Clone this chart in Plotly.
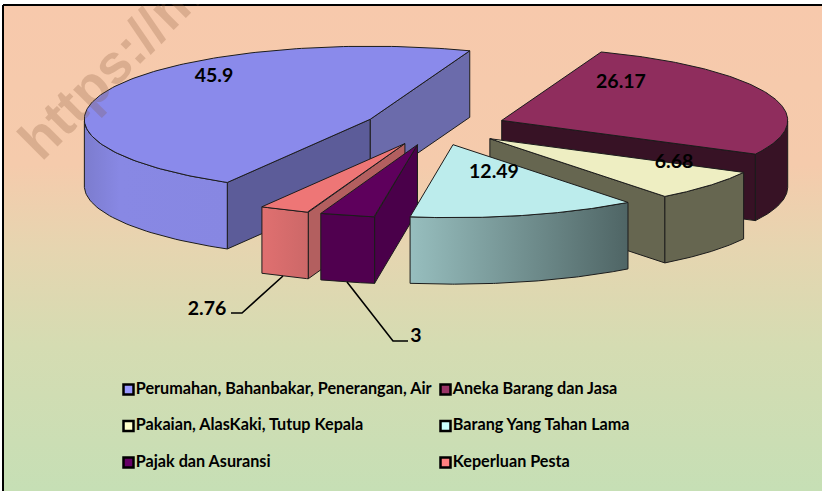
import numpy as np
import plotly.graph_objects as go

categories = ["Perumahan, Bahanbakar, Penerangan, Air", "Aneka Barang dan Jasa",
              "Pakaian, AlasKaki, Tutup Kepala", "Barang Yang Tahan Lama",
              "Pajak dan Asuransi", "Keperluan Pesta"]
values = [45.9, 26.17, 6.68, 12.49, 3, 2.76]
top_colors = ["#8a8aeb", "#8f2d5d", "#eeeec2", "#bcecec", "#5e005c", "#ee7676"]
legend_colors = ["#9999ff", "#993366", "#ffffcc", "#ccffff", "#660066", "#ff8080"]

W, H = 822, 491
LEFT, TOP = 2, 4  # white strip left of and above the chart panel
CX, CY, A, B, DEPTH, EXPLODE = 435, 127, 286, 73, 66.5, 0.25
START = 240.0
FONT = "Lato"

wall_style = {
    0: {"start": "#5c5c99", "end": "#6b6bab", "arc": [[0, "#7c7cce"], [0.25, "#8888e4"], [1, "#8787e2"]]},
    1: {"end": "#371225", "arc": [[0, "#371225"], [1, "#371225"]]},
    2: {"end": "#666650", "arc": [[0, "#666650"], [1, "#666650"]]},
    3: {"arc": [[0, "#97bebe"], [1, "#4f6565"]]},
    4: {"start": "#4a004a", "arc": [[0, "#50004f"], [1, "#50004f"]]},
    5: {"start": "#b35f5f", "arc": [[0, "#e07070"], [1, "#cc6868"]]},
}
draw_order = [0, 1, 2, 5, 4, 3]
value_label_pos = {0: (214, 77), 1: (621, 83), 2: (674, 163), 3: (494, 173), 4: (416, 337), 5: (207, 310)}
leaders = [[(283, 276), (242, 313), (231, 313)], [(347, 282), (393, 341), (408, 341)]]
legend_xs = [128.5, 445.5]
legend_ys = [389.5, 426, 462.5]

fig = go.Figure()
EDGE = "#1c1c1c"


def poly(xs, ys, color, gradient=None):
    t = dict(x=list(xs) + [xs[0]], y=list(ys) + [ys[0]], mode="lines", fill="toself",
             line=dict(color=EDGE, width=1), hoverinfo="skip", showlegend=False)
    if gradient:
        t["fillgradient"] = dict(type="horizontal", colorscale=gradient, start=min(xs), stop=max(xs))
    else:
        t["fillcolor"] = color
    fig.add_trace(go.Scatter(**t))


# background panel (runs past the right and bottom edges, as in the reference)
fig.add_trace(go.Scatter(
    x=[3, 830, 830, 3, 3], y=[5, 5, 500, 500, 5], mode="lines", fill="toself",
    line=dict(color="#000000", width=2), hoverinfo="skip", showlegend=False,
    fillgradient=dict(type="vertical", start=5, stop=491,
                      colorscale=[[0, "#f7c9ac"], [0.33, "#f5cbac"], [0.5, "#e6d5b0"],
                                  [0.7, "#d5dcb2"], [1, "#c6dfb5"]])))

# slices: angles come from the values
total = sum(values)
angles = [START]
for v in values:
    angles.append(angles[-1] - v / total * 360)

for i in draw_order:
    t0, t1 = angles[i], angles[i + 1]
    mid = np.radians((t0 + t1) / 2)
    ax = CX + EXPLODE * A * np.cos(mid)
    ay = CY - EXPLODE * B * np.sin(mid)
    px = lambda d: ax + A * np.cos(np.radians(d))
    py = lambda d: ay - B * np.sin(np.radians(d))
    style = wall_style[i]
    # radial walls
    for key, d in (("start", t0), ("end", t1)):
        if key in style:
            poly([ax, px(d), px(d), ax], [ay, py(d), py(d) + DEPTH, ay + DEPTH], style[key])
    # outer wall: only the part of the rim that faces the viewer
    th = np.linspace(t0, t1, 120)
    th = th[np.sin(np.radians(th)) <= 0.001]
    if len(th) > 1:
        xs = list(px(th)) + list(px(th[::-1]))
        ys = list(py(th)) + list(py(th[::-1]) + DEPTH)
        poly(xs, ys, None, gradient=style["arc"])
    # top face
    th = np.linspace(t0, t1, 160)
    poly([ax] + list(px(th)), [ay] + list(py(th)), top_colors[i])

# leader lines
for pts in leaders:
    fig.add_trace(go.Scatter(x=[p[0] for p in pts], y=[p[1] for p in pts], mode="lines",
                             line=dict(color="#000000", width=1.6), hoverinfo="skip", showlegend=False))

# value labels
fig.add_trace(go.Scatter(
    x=[value_label_pos[i][0] for i in range(6)], y=[value_label_pos[i][1] for i in range(6)],
    mode="text", text=[str(v) for v in values],
    textfont=dict(family=FONT, size=19.5, color="#000000", weight="bold"),
    hoverinfo="skip", showlegend=False))

# legend
lx = [legend_xs[k % 2] for k in range(6)]
ly = [legend_ys[k // 2] for k in range(6)]
fig.add_trace(go.Scatter(
    x=lx, y=ly, mode="markers+text", text=categories, textposition="middle right",
    marker=dict(symbol="square", size=10, color=legend_colors, line=dict(color="#000000", width=2.5)),
    textfont=dict(family=FONT, size=16.2, color="#000000", weight="bold"),
    hoverinfo="skip", showlegend=False))

fig.add_annotation(x=110, y=67, xref="x", yref="y", text="https://m", showarrow=False, textangle=-45,
                   font=dict(family="Liberation Sans", size=55, color="rgba(130,85,50,0.24)", weight="bold"))

fig.update_layout(
    width=W - LEFT, height=H - TOP, margin=dict(l=0, r=0, t=0, b=0), autosize=False,
    paper_bgcolor="#ffffff", plot_bgcolor="rgba(0,0,0,0)",
    xaxis=dict(range=[LEFT, W], visible=False, fixedrange=True),
    yaxis=dict(range=[H, TOP], visible=False, fixedrange=True),
    showlegend=False)
fig.write_html("out.html", config={"displayModeBar": False},
               post_script=f"document.body.style.margin='{TOP}px 0 0 {LEFT}px';"
                           "document.documentElement.style.overflow='hidden';")
